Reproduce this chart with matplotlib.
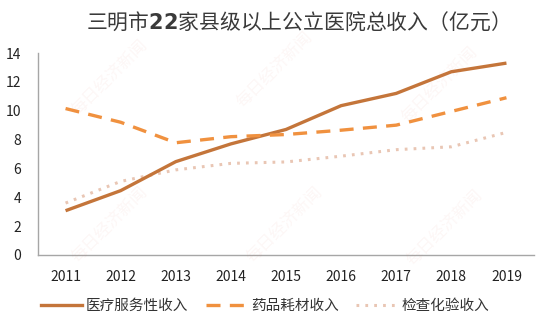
import matplotlib
matplotlib.use("Agg")
import matplotlib.pyplot as plt
from matplotlib.lines import Line2D

plt.rcParams['font.family'] = ['Noto Sans CJK SC', 'DejaVu Sans']

years = ["2011", "2012", "2013", "2014", "2015", "2016", "2017", "2018", "2019"]
service_income = [3.07, 4.46, 6.47, 7.7, 8.7, 10.35, 11.2, 12.7, 13.3]
drug_income = [10.15, 9.2, 7.78, 8.2, 8.35, 8.65, 9.0, 9.95, 10.9]
exam_income = [3.6, 5.1, 5.9, 6.35, 6.45, 6.85, 7.3, 7.5, 8.5]
series_names = ["医疗服务性收入", "药品耗材收入", "检查化验收入"]
title = r"三明市$\mathbf{22}$家县级以上公立医院总收入（亿元）"

c_service = "#C4753A"
c_drug = "#F0913F"
c_exam = "#E9C6B4"

fig = plt.figure(figsize=(5.5, 3.28), dpi=100)
ax = fig.add_axes([38 / 550, 1 - 255 / 328, 496 / 550, 202 / 328])

x = list(range(len(years)))
ax.plot(x, service_income, color=c_service, lw=2.4, solid_capstyle="butt", zorder=3)
ax.plot(x, drug_income, color=c_drug, lw=2.4, dashes=(4.2, 2.8), zorder=3)
ax.plot(x, exam_income, color=c_exam, lw=2.2, dashes=(0.9, 2.0), zorder=2)

ax.set_xlim(-0.5, 8.5)
ax.set_ylim(0, 14)
ax.set_yticks(range(0, 15, 2))
ax.set_xticks(x)
ax.set_xticklabels(years)
ax.tick_params(axis="both", length=0, labelsize=10, colors="#222222")
ax.tick_params(axis="y", pad=12)
ax.tick_params(axis="x", pad=11)
for side in ("top", "right"):
    ax.spines[side].set_visible(False)
for side in ("left", "bottom"):
    ax.spines[side].set_color("#A6A6A6")
    ax.spines[side].set_linewidth(1.0)

fig.text(292 / 550, 1 - 22 / 328, title, ha="center", va="center",
         fontsize=15, color="#3A3A3A")

# faint publisher watermark
for (wx, wy) in [(110, 78), (275, 70), (440, 85), (110, 225), (285, 225), (445, 228)]:
    fig.text(wx / 550, 1 - wy / 328, "每日经济新闻", rotation=45, ha="center",
             va="center", fontsize=12, color="#E07060", alpha=0.06, zorder=0)

handles = [
    Line2D([], [], color=c_service, lw=2.4),
    Line2D([], [], color=c_drug, lw=2.4, dashes=(4.2, 2.8)),
    Line2D([], [], color=c_exam, lw=2.2, dashes=(0.9, 2.0)),
]
fig.legend(handles, series_names, loc="center", bbox_to_anchor=(265 / 550, 1 - 306 / 328),
           ncol=3, frameon=False, fontsize=10.5, handlelength=2.8, handletextpad=0.3,
           columnspacing=1.2, labelcolor="#333333")

fig.savefig("out.png", dpi=100, facecolor="white")
